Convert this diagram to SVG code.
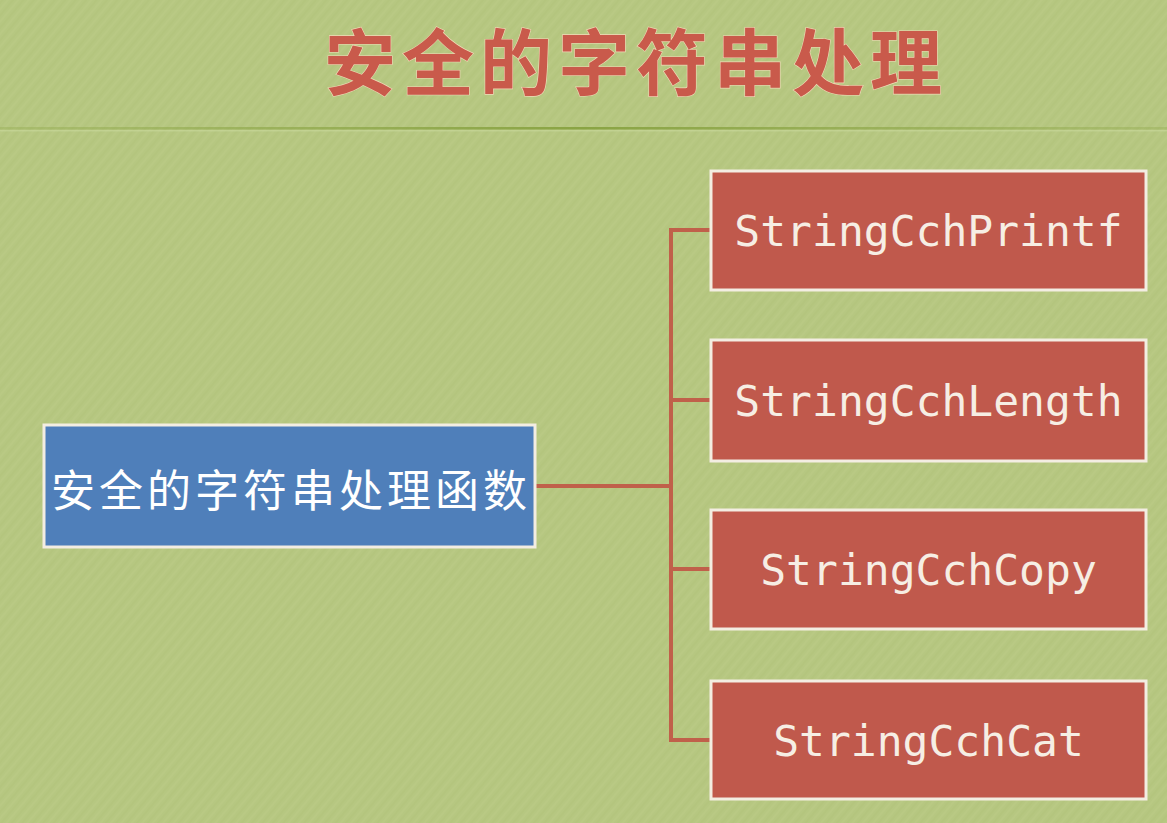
<svg xmlns="http://www.w3.org/2000/svg" width="1167" height="823" viewBox="0 0 1167 823">
  <defs>
    <pattern id="tex" width="8" height="8" patternUnits="userSpaceOnUse" patternTransform="rotate(-50)">
      <rect width="8" height="8" fill="#b6c781"/>
      <line x1="0" y1="2" x2="8" y2="2" stroke="#aabc74" stroke-width="0.8" opacity="0.5"/>
      <line x1="0" y1="6" x2="8" y2="6" stroke="#c2d190" stroke-width="0.8" opacity="0.5"/>
    </pattern>
    <linearGradient id="divider" x1="0" y1="0" x2="1" y2="0">
      <stop offset="0" stop-color="#8fa84a" stop-opacity="0.35"/>
      <stop offset="0.5" stop-color="#8aa444" stop-opacity="1"/>
      <stop offset="1" stop-color="#8fa84a" stop-opacity="0.35"/>
    </linearGradient>
    <style>
      .red { fill: #c0594c; stroke: #f3ede2; stroke-width: 3; }
      .blue { fill: #4f7fba; stroke: #f3ede2; stroke-width: 3; }
      .code { font-family: "DejaVu Sans Mono", "Liberation Mono", monospace; font-size: 43px; fill: #f6eee4; text-anchor: middle; }
      .cjk { font-family: "Noto Sans CJK SC", sans-serif; text-anchor: middle; }
      .conn { stroke: #c0604a; stroke-width: 4; fill: none; }
    </style>
  </defs>

  <rect width="1167" height="823" fill="url(#tex)"/>
  <rect x="0" y="127" width="1167" height="2.5" fill="url(#divider)"/>
  <rect x="0" y="130" width="1167" height="1.5" fill="#cad89c" opacity="0.6"/>

  <g id="title">
    <text class="cjk" x="636" y="89" font-size="72" font-weight="700" letter-spacing="6" fill="#c95a4b" stroke="#f2d9b8" stroke-width="1.2" paint-order="stroke">安全的字符串处理</text>
  </g>

  <g id="connectors">
    <path class="conn" d="M536 486 H671"/>
    <path class="conn" d="M671 228 V742"/>
    <path class="conn" d="M669 230 H710"/>
    <path class="conn" d="M669 400 H710"/>
    <path class="conn" d="M669 569 H710"/>
    <path class="conn" d="M669 740 H710"/>
  </g>

  <g id="root">
    <rect class="blue" x="44" y="425" width="491" height="122"/>
    <text class="cjk" x="291" y="507" font-size="44" letter-spacing="4" fill="#ffffff">安全的字符串处理函数</text>
  </g>

  <g id="n1">
    <rect class="red" x="711" y="171" width="435" height="119"/>
    <text class="code" x="928.5" y="246">StringCchPrintf</text>
  </g>
  <g id="n2">
    <rect class="red" x="711" y="340" width="435" height="121"/>
    <text class="code" x="928.5" y="416">StringCchLength</text>
  </g>
  <g id="n3">
    <rect class="red" x="711" y="510" width="435" height="119"/>
    <text class="code" x="928.5" y="585">StringCchCopy</text>
  </g>
  <g id="n4">
    <rect class="red" x="711" y="681" width="435" height="118"/>
    <text class="code" x="928.5" y="756">StringCchCat</text>
  </g>
</svg>
